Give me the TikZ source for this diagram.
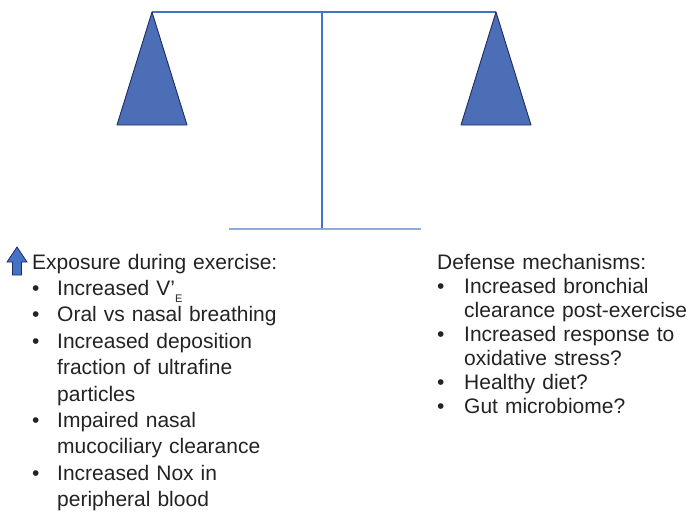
\documentclass[tikz,border=0pt]{standalone}
\usepackage{fontspec}
\setmainfont{Liberation Sans}
\usepackage{tikz}
\definecolor{beamblue}{RGB}{68,114,196}
\definecolor{baseblue}{RGB}{143,170,220}
\definecolor{panfill}{RGB}{76,110,182}
\definecolor{panline}{RGB}{31,42,100}
\definecolor{inktext}{RGB}{35,35,35}
% one bullet item, hanging indent given as optional argument
\newcommand{\bulletline}[2][25pt]{\par\hangindent=#1\hangafter=1\noindent\makebox[#1][l]{\textbullet}#2}
\begin{document}
\begin{tikzpicture}[x=1pt,y=-1pt]
\tikzstyle{every node}+=[inner sep=0pt]
\tikzset{listtext/.style={anchor=base west, text width=300pt, font=\fontsize{21}{26.4}\selectfont, text=inktext}}
\useasboundingbox (0,0) rectangle (690,512);
% balance
\coordinate (lefttip) at (152,12);
\coordinate (righttip) at (496,12);
\coordinate (poletop) at (322,12);
\coordinate (polefoot) at (322,229);
\coordinate (baseleft) at (229,229);
\coordinate (baseright) at (421,229);
\draw [beamblue, line width=1.2pt] (lefttip) -- (righttip);
\draw [beamblue, line width=1.2pt] (poletop) -- (polefoot);
\draw [baseblue, line width=1.8pt] (baseleft) -- (baseright);
\draw [panline, fill=panfill, line width=0.9pt, line join=round] (lefttip) -- (187,125) -- (117,125) -- cycle;
\draw [panline, fill=panfill, line width=0.9pt, line join=round] (righttip) -- (531,125) -- (461,125) -- cycle;
% up arrow
\draw [panline, fill=beamblue, line width=0.8pt] (17,247) -- (27,262) -- (21.5,262) -- (21.5,275) -- (12.5,275) -- (12.5,262) -- (7,262) -- cycle;
% left list
\node [listtext] (exposure) at (32,269) {Exposure during exercise:%
\bulletline{Increased V’\raisebox{-7pt}{\fontsize{11}{11}\selectfont E}}%
\bulletline{Oral vs nasal breathing}%
\bulletline{Increased deposition\newline fraction of ultrafine\newline particles}%
\bulletline{Impaired nasal\newline mucociliary clearance}%
\bulletline{Increased Nox in\newline peripheral blood}\par};
% right list
\node [listtext, font=\fontsize{21}{24}\selectfont] (defense) at (437,269) {Defense mechanisms:%
\bulletline[27pt]{Increased bronchial\newline clearance post-exercise}%
\bulletline[27pt]{Increased response to\newline oxidative stress?}%
\bulletline[27pt]{Healthy diet?}%
\bulletline[27pt]{Gut microbiome?}\par};
\end{tikzpicture}
\end{document}
